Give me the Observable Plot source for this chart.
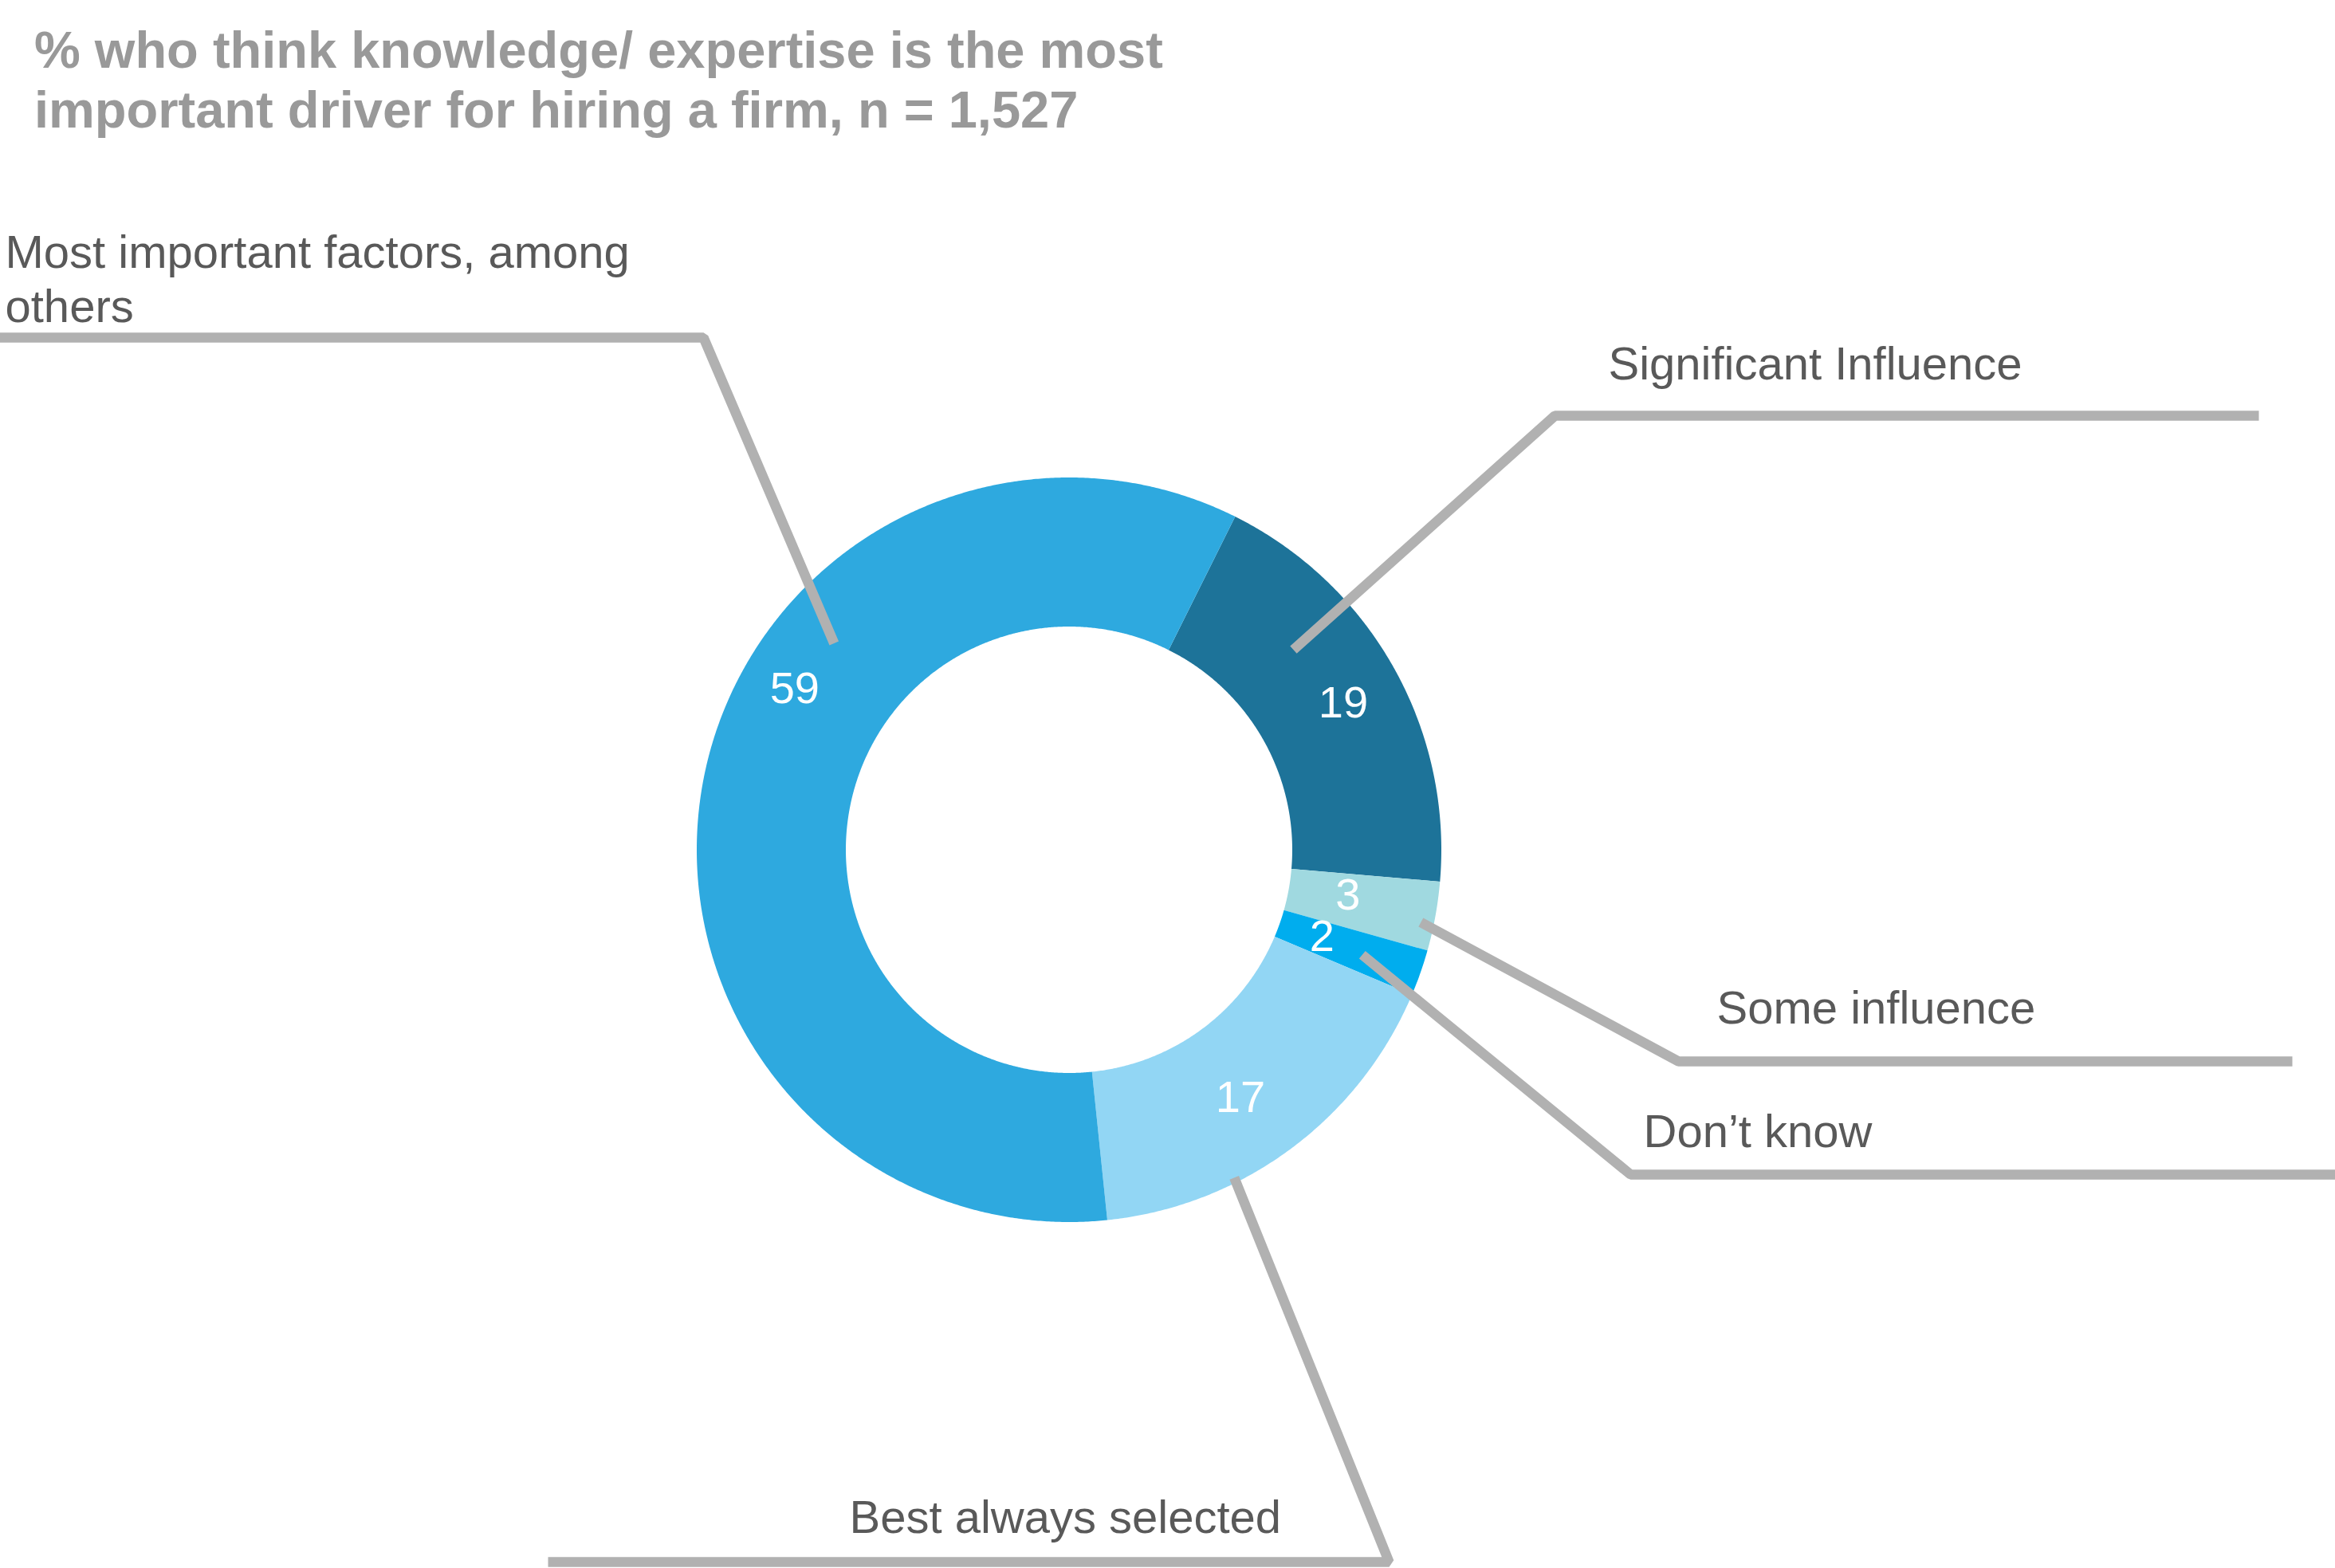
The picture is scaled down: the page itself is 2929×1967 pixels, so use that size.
<!DOCTYPE html>
<html>
<head>
<meta charset="utf-8">
<script src="https://cdn.jsdelivr.net/npm/d3@7"></script>
<script src="https://cdn.jsdelivr.net/npm/@observablehq/plot@0.6"></script>
<style>
  html, body { margin: 0; padding: 0; background: #fff; }
  #wrap { position: relative; width: 2929px; height: 1967px; overflow: hidden; background: #fff; }
  #chart { position: absolute; left: 0; top: 0; }
  #title {
    position: absolute; left: 43px; top: 25px;
    font: bold 65px/75px "Liberation Sans", Arial, Helvetica, sans-serif;
    color: #999999; white-space: nowrap;
  }
</style>
</head>
<body>
<div id="wrap">
  <div id="chart"></div>
  <div id="title">% who think knowledge/ expertise is the most<br>important driver for hiring a firm, n = 1,527</div>
</div>
<script>
// ---- data ----
const categories = ["Significant Influence", "Some influence", "Don’t know", "Best always selected", "Most important factors, among others"];
const values = [19, 3, 2, 17, 59];
const labelText = ["Significant Influence", "Some influence", "Don’t know", "Best always selected", "Most important factors, among\nothers"];

// ---- styles ----
const colors = ["#1d7399", "#a0d9e0", "#00adee", "#92d6f4", "#2ea9df"];
const lineColor = "#b1b1b1";
const textColor = "#595959";

// ---- layout (pixels) ----
const W = 2929, H = 1967;
const cx = 1341, cy = 1066, R = 467, r0 = 280;
const startDeg = 26.5;
// position along each arc (fraction) and radius for value label and leader start,
// plus elbow / horizontal-end of the leader and label anchor
const layout = [
  {labelAt: 0.515, labelR: 390, leadAt: 0.317, leadR: 377, elbowX: 1950, elbowY: 521, endX: 2833, textX: 2017, textY: 475},
  {labelAt: 0.40,  labelR: 354, leadAt: 0.62,  leadR: 450, elbowX: 2105, elbowY: 1331, endX: 2875, textX: 2153, textY: 1283},
  {labelAt: 0.45,  labelR: 335, leadAt: 0.55,  leadR: 390, elbowX: 2045, elbowY: 1473, endX: 2940, textX: 2061, textY: 1438},
  {labelAt: 0.53,  labelR: 377, leadAt: 0.66,  leadR: 460, elbowX: 1742, elbowY: 1959, endX: 687,  textX: 1065, textY: 1922},
  {labelAt: 0.595, labelR: 400, leadAt: 0.646, leadR: 393, elbowX: 882,  elbowY: 423,  endX: -10,  textX: 6,    textY: 403}
];

const table = categories.map((c, i) => ({key: c, value: values[i], label: labelText[i], ...layout[i]}));

const start = startDeg * Math.PI / 180;
const arcs = d3.pie().sort(null).value(d => d.value).startAngle(start).endAngle(start + 2 * Math.PI)(table);

const px = (a, rad) => cx + rad * Math.sin(a);
const py = (a, rad) => cy - rad * Math.cos(a);

// ring segment samples: outer (x1,y1) and inner (x2,y2)
const ring = [];
for (const a of arcs) {
  const n = Math.max(4, Math.ceil((a.endAngle - a.startAngle) * 180 / Math.PI * 3));
  for (let k = 0; k <= n; k++) {
    const t = a.startAngle + (a.endAngle - a.startAngle) * k / n;
    ring.push({key: a.data.key, x1: px(t, R), y1: py(t, R), x2: px(t, r0), y2: py(t, r0)});
  }
}

const valueLabels = arcs.map(a => {
  const t = a.startAngle + (a.endAngle - a.startAngle) * a.data.labelAt;
  return {text: String(a.data.value), x: px(t, a.data.labelR), y: py(t, a.data.labelR)};
});

const leaders = [];
for (const a of arcs) {
  const d = a.data;
  const t = a.startAngle + (a.endAngle - a.startAngle) * d.leadAt;
  leaders.push({key: d.key, x: px(t, d.leadR), y: py(t, d.leadR)});
  leaders.push({key: d.key, x: d.elbowX, y: d.elbowY});
  leaders.push({key: d.key, x: d.endX, y: d.elbowY});
}

const chart = Plot.plot({
  width: W,
  height: H,
  margin: 0,
  x: {domain: [0, W], range: [0, W], axis: null},
  y: {domain: [0, H], range: [0, H], axis: null},
  color: {domain: categories, range: colors},
  style: {fontFamily: "'Liberation Sans', Arial, Helvetica, sans-serif", background: "#fff"},
  marks: [
    Plot.area(ring, {x1: "x1", y1: "y1", x2: "x2", y2: "y2", z: "key", fill: "key", curve: "linear"}),
    Plot.line(leaders, {x: "x", y: "y", z: "key", stroke: lineColor, strokeWidth: 12.5, strokeLinejoin: "miter", strokeLinecap: "butt", curve: "linear"}),
    Plot.text(valueLabels, {x: "x", y: "y", text: "text", fill: "#fff", fontSize: 56, textAnchor: "middle", lineAnchor: "middle"}),
    Plot.text(table, {x: "textX", y: "textY", text: "label", fill: textColor, fontSize: 58, textAnchor: "start", lineAnchor: "bottom", lineHeight: 1.172})
  ]
});
document.getElementById("chart").appendChild(chart);
</script>
</body>
</html>
